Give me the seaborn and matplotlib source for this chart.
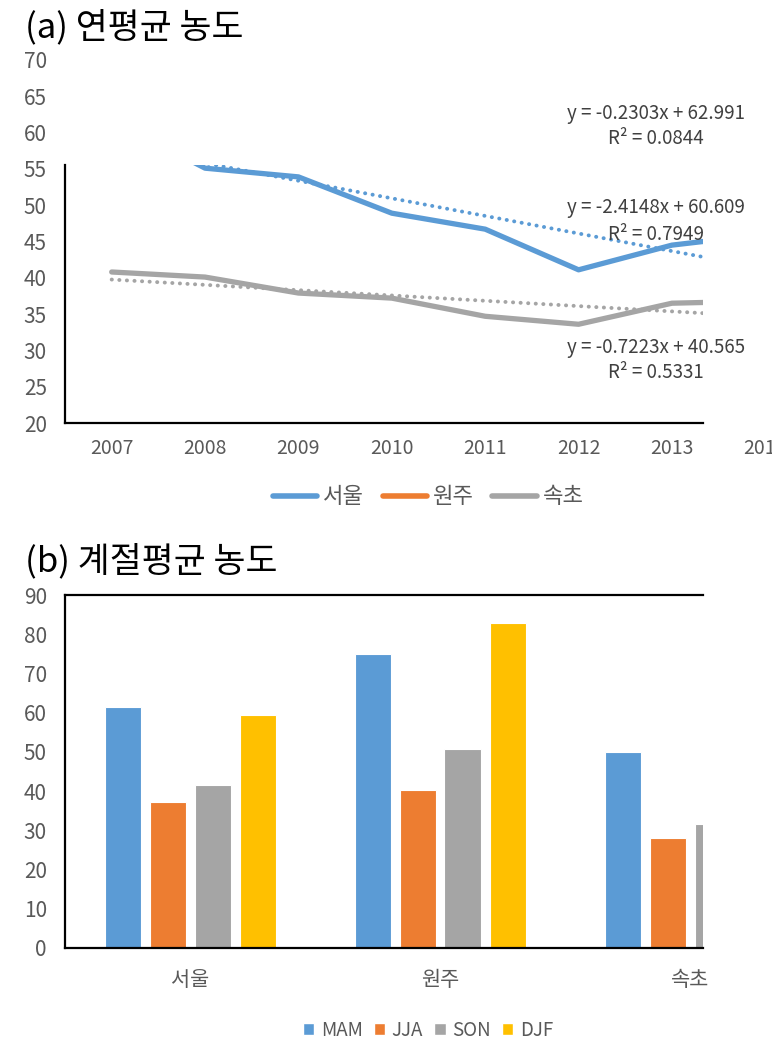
"""
Recreate: (a) annual mean concentration lines with trendlines, (b) seasonal mean bars
Run: python plot.py
"""
import numpy as np
import pandas as pd
import matplotlib
matplotlib.use("Agg")
import matplotlib.pyplot as plt
from matplotlib.patches import Rectangle, Patch
from matplotlib.lines import Line2D
import seaborn as sns

W, H = 772, 1053

# (a) annual means
years = [2007, 2008, 2009, 2010, 2011, 2012, 2013, 2014]
seoul = [61.7, 55.1, 53.9, 48.9, 46.7, 41.1, 44.5, 46.0]
wonju = [63.5, 60.2, 62.8, 64.0, 59.5, 61.8, 63.0, 60.8]
sokcho = [40.8, 40.1, 37.9, 37.2, 34.7, 33.6, 36.5, 36.8]
sites = ["서울", "원주", "속초"]
site_colors = ["#5B9BD5", "#ED7D31", "#A5A5A5"]
eq_lines = ["y = -0.2303x + 62.991", "y = -2.4148x + 60.609", "y = -0.7223x + 40.565"]
r2_lines = ["R² = 0.0844", "R² = 0.7949", "R² = 0.5331"]

# (b) seasonal means
seasons = ["MAM", "JJA", "SON", "DJF"]
season_colors = ["#5B9BD5", "#ED7D31", "#A5A5A5", "#FFC000"]
mam = [61.5, 74.9, 49.9]
jja = [37.2, 40.2, 28.0]
son = [41.5, 50.7, 31.5]
djf = [59.4, 82.8, 43.0]

TXT = "#595959"


def fy(y):
    return 1 - y / H


def annual_panel(fig):
    ax = fig.add_axes([65 / W, fy(423), 747 / W, 363 / H])
    df = pd.DataFrame({
        "year": years * 3,
        "value": seoul + wonju + sokcho,
        "site": np.repeat(sites, len(years)),
    })
    sns.lineplot(data=df, x="year", y="value", hue="site", hue_order=sites,
                 palette=site_colors, lw=3.8, legend=False, ax=ax)
    # linear trendlines (Excel style, dotted)
    for vals, c in zip([wonju, seoul, sokcho], [site_colors[1], site_colors[0], site_colors[2]]):
        sns.regplot(x=years, y=vals, scatter=False, ci=None, ax=ax,
                    line_kws=dict(color=c, lw=2.8, ls=(0, (0.05, 1.9)),
                                  dash_capstyle="round"))
    ax.set_xlim(2006.5, 2014.5)
    ax.set_ylim(20, 70)
    # plot area was cropped in the original
    x_right, y_top = 2013.33, 55.6
    clip = Rectangle((2006.5, 20), x_right - 2006.5, y_top - 20, transform=ax.transData)
    for ln in ax.lines:
        ln.set_clip_path(clip)
    for s in ["top", "right"]:
        ax.spines[s].set_visible(False)
    ax.spines["left"].set_bounds(20, y_top)
    ax.spines["bottom"].set_bounds(2006.5, x_right)
    for s in ["left", "bottom"]:
        ax.spines[s].set_color("black")
        ax.spines[s].set_linewidth(1.6)
    ax.set_yticks(range(20, 71, 5))
    ax.set_xticks(years)
    ax.set_xlabel("")
    ax.set_ylabel("")
    ax.tick_params(axis="y", length=0, labelcolor=TXT, labelsize=15, pad=13)
    ax.tick_params(axis="x", length=0, labelcolor=TXT, labelsize=14, pad=11)

    for eq, r2, yy in zip(eq_lines, r2_lines, [113, 208, 347]):
        fig.text(656 / W, fy(yy), eq, ha="center", va="center", fontsize=13.5, color="#404040")
        fig.text(656 / W, fy(yy + 26), r2, ha="center", va="center", fontsize=13.5, color="#404040")

    handles = [Line2D([], [], color=c, lw=4) for c in site_colors]
    fig.legend(handles, sites, loc="center", bbox_to_anchor=(428 / W, fy(497)), ncol=3,
               frameon=False, fontsize=16, handlelength=2.0, handletextpad=0.25,
               columnspacing=0.85, labelcolor=TXT)
    fig.text(25 / W, fy(27), "(a) 연평균 농도", fontsize=25, va="center", color="black")


def seasonal_panel(fig):
    ax = fig.add_axes([65 / W, fy(948), 750 / W, 353 / H])
    df = pd.DataFrame({
        "site": sites * 4,
        "season": np.repeat(seasons, len(sites)),
        "value": mam + jja + son + djf,
    })
    sns.barplot(data=df, x="site", y="value", hue="season", hue_order=seasons,
                palette=season_colors, width=0.72, gap=0.2, errorbar=None,
                edgecolor="white", linewidth=0.8, saturation=1, legend=False, ax=ax)
    ax.set_xlim(-0.5, 2.5)
    ax.set_ylim(0, 90)
    x_right = 2.052
    clip = Rectangle((-0.5, 0), x_right + 0.5, 90, transform=ax.transData)
    for p in ax.patches:
        p.set_clip_path(clip)
    ax.spines["right"].set_visible(False)
    ax.spines["top"].set_bounds(-0.5, x_right)
    ax.spines["bottom"].set_bounds(-0.5, x_right)
    for s in ["left", "bottom", "top"]:
        ax.spines[s].set_color("black")
        ax.spines[s].set_linewidth(1.6)
    ax.set_yticks(range(0, 91, 10))
    ax.set_xlabel("")
    ax.set_ylabel("")
    ax.tick_params(axis="y", length=0, labelcolor=TXT, labelsize=15, pad=13)
    ax.tick_params(axis="x", length=0, labelcolor=TXT, labelsize=15, pad=15)

    handles = [Patch(facecolor=c) for c in season_colors]
    fig.legend(handles, seasons, loc="center", bbox_to_anchor=(428 / W, fy(1030)), ncol=4,
               frameon=False, fontsize=13.5, handlelength=0.6, handleheight=0.6,
               handletextpad=0.35, columnspacing=0.6, labelcolor=TXT)
    fig.text(25 / W, fy(561), "(b) 계절평균 농도", fontsize=25, va="center", color="black")


def main():
    sns.set_theme(style="white")
    plt.rcParams["font.family"] = ["Noto Sans CJK KR", "DejaVu Sans"]
    fig = plt.figure(figsize=(W / 100, H / 100), dpi=100)
    annual_panel(fig)
    seasonal_panel(fig)
    fig.savefig("out.png", dpi=100, facecolor="white")
    plt.close(fig)


if __name__ == "__main__":
    main()
